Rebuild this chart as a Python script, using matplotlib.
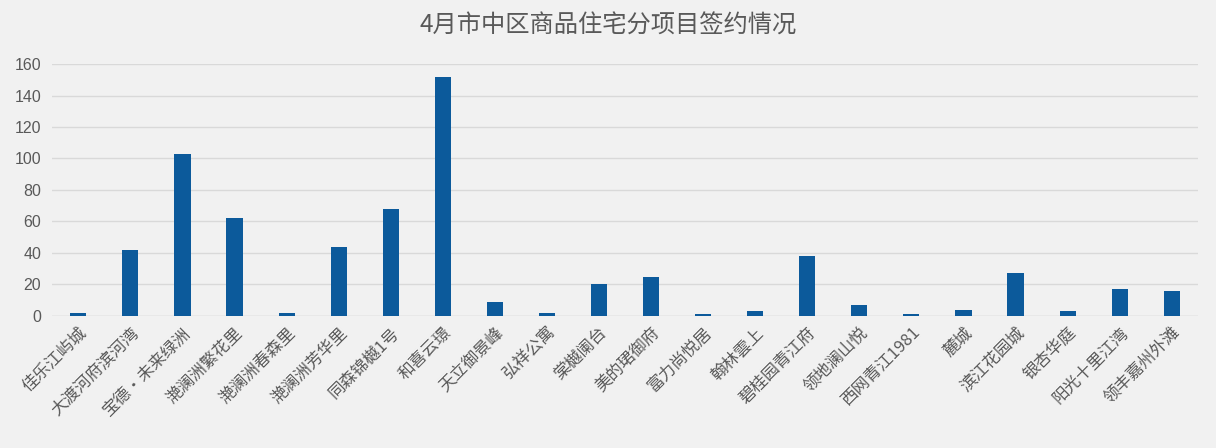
import matplotlib
matplotlib.use("Agg")
import matplotlib.pyplot as plt

plt.rcParams['font.family'] = ['Noto Sans CJK SC', 'DejaVu Sans']

title = '4月市中区商品住宅分项目签约情况'
projects = ['佳乐江屿城', '大渡河府滨河湾', '宝德·未来绿洲', '滟澜洲繁花里', '滟澜洲春森里',
            '滟澜洲芳华里', '同森锦樾1号', '和喜云璟', '天立御景峰', '弘祥公寓',
            '棠樾阑台', '美的珺御府', '富力尚悦居', '翰林雲上', '碧桂园青江府',
            '领地澜山悦', '西网青江1981', '麓城', '滨江花园城', '银杏华庭',
            '阳光十里江湾', '领丰嘉州外滩']
signed = [2, 42, 103, 62, 2, 44, 68, 152, 9, 2,
          20, 25, 1, 3, 38, 7, 1, 4, 27, 3, 17, 16]
yticks = [0, 20, 40, 60, 80, 100, 120, 140, 160]

bg = '#f1f1f1'
text_color = '#595959'

fig = plt.figure(figsize=(12.16, 4.48), dpi=100, facecolor=bg)
ax = fig.add_axes([0.043, 0.295, 0.942, 0.562])
ax.set_facecolor(bg)

x = range(len(projects))
ax.bar(x, signed, width=0.31, color='#0c5a9b', zorder=3)

ax.set_xlim(-0.5, len(projects) - 0.5)
ax.set_ylim(0, 160)
ax.set_yticks(yticks)
ax.set_yticklabels([str(v) for v in yticks], fontsize=11.5, color=text_color,
                   family=['Liberation Sans', 'DejaVu Sans'])
ax.grid(axis='y', color='#d9d9d9', linewidth=1, zorder=0)
ax.set_axisbelow(True)

ax.set_xticks(list(x))
ax.set_xticklabels(projects, rotation=45, ha='right', va='top',
                   rotation_mode='anchor', fontsize=12, color=text_color)
ax.tick_params(length=0, pad=6)
ax.tick_params(axis='y', pad=8)

for s in ax.spines.values():
    s.set_visible(False)
ax.axhline(0, color='#d9d9d9', linewidth=1, zorder=1)

fig.text(0.5, 0.943, title, ha='center', va='center', fontsize=17.5, color=text_color)

fig.savefig('out.png', dpi=100, facecolor=bg)
